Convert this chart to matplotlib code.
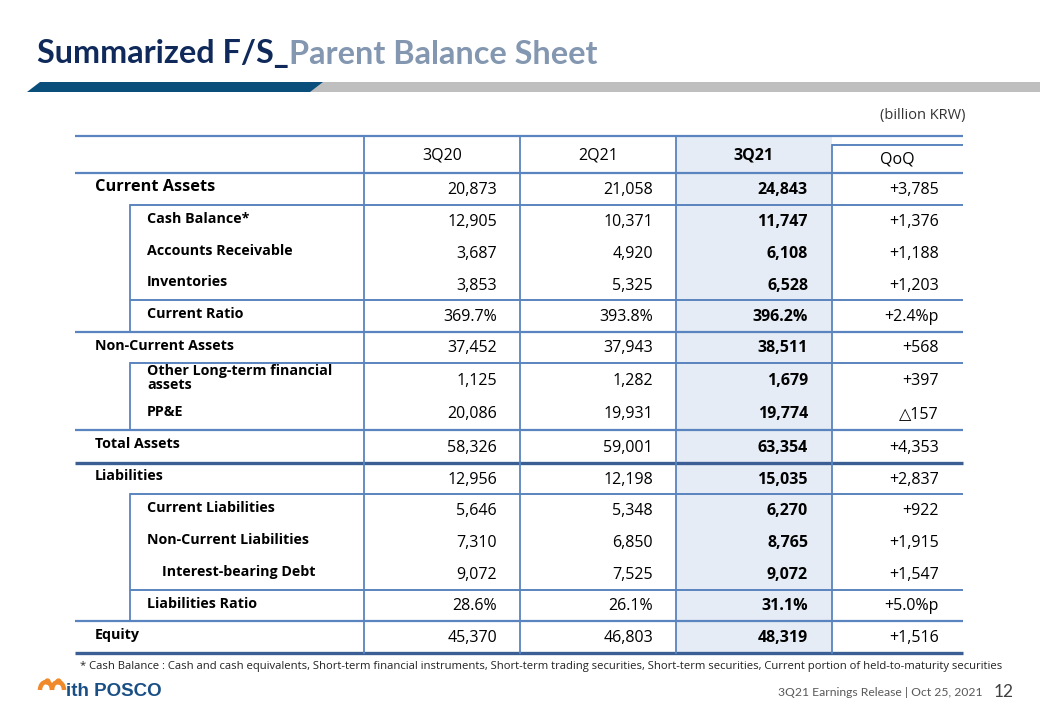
import matplotlib
matplotlib.use("Agg")
import matplotlib.pyplot as plt
from matplotlib.patches import Polygon, Rectangle, Arc

# table data (billion KRW)
row_labels = ["Current Assets", "Cash Balance*", "Accounts Receivable", "Inventories",
              "Current Ratio", "Non-Current Assets", "Other Long-term financial\nassets",
              "PP&E", "Total Assets", "Liabilities", "Current Liabilities",
              "Non-Current Liabilities", "Interest-bearing Debt", "Liabilities Ratio", "Equity"]
row_level = [0, 1, 1, 1, 1, 0, 1, 1, 0, 0, 1, 1, 2, 1, 0]
columns = ["3Q20", "2Q21", "3Q21", "QoQ"]
v_3q20 = ["20,873", "12,905", "3,687", "3,853", "369.7%", "37,452", "1,125", "20,086",
          "58,326", "12,956", "5,646", "7,310", "9,072", "28.6%", "45,370"]
v_2q21 = ["21,058", "10,371", "4,920", "5,325", "393.8%", "37,943", "1,282", "19,931",
          "59,001", "12,198", "5,348", "6,850", "7,525", "26.1%", "46,803"]
v_3q21 = ["24,843", "11,747", "6,108", "6,528", "396.2%", "38,511", "1,679", "19,774",
          "63,354", "15,035", "6,270", "8,765", "9,072", "31.1%", "48,319"]
v_qoq = ["+3,785", "+1,376", "+1,188", "+1,203", "+2.4%p", "+568", "+397", "\u25b3157",
         "+4,353", "+2,837", "+922", "+1,915", "+1,547", "+5.0%p", "+1,516"]

# layout (pixels)
row_edges = [173, 205, 237, 269, 300, 332, 363, 397, 430, 463, 494, 526, 558, 590, 621, 653]
col_edges = [75, 364, 520, 676, 832, 963]
line_c = "#5a84bf"
dark_line = "#3b5f94"
body_font = "Open Sans"

fig = plt.figure(figsize=(10.4, 7.2), dpi=100)
ax = fig.add_axes([0, 0, 1, 1])
ax.set_xlim(0, 1040)
ax.set_ylim(720, 0)
ax.axis("off")

# title
t1 = ax.text(37, 54, "Summarized F/S_", fontsize=23.3, fontweight="bold", color="#0f2a5a",
             family="Lato", va="center", ha="left")
fig.canvas.draw()
bb = t1.get_window_extent(fig.canvas.get_renderer())
x_end = ax.transData.inverted().transform((bb.x1, bb.y0))[0]
ax.text(x_end, 54, "Parent Balance Sheet", fontsize=23.3, fontweight="bold", color="#8497b0",
        family="Lato", va="center", ha="left")

# header band
ax.add_patch(Polygon([(310, 82), (1040, 82), (1040, 92), (300, 92)], closed=True,
                     facecolor="#bfbfbf", edgecolor="none"))
ax.add_patch(Polygon([(40, 82), (323, 82), (310, 92), (27, 92)], closed=True,
                     facecolor="#0a4f7c", edgecolor="none"))

ax.text(965, 115, "(billion KRW)", fontsize=10.5, color="#333333", family=body_font,
        ha="right", va="center")

# 3Q21 shading
ax.add_patch(Rectangle((col_edges[3], 136), col_edges[4] - col_edges[3], 653 - 136,
                       facecolor="#e5ecf6", edgecolor="none", zorder=0))

# horizontal lines
full = [136, 173, 332, 430, 621]
sub = [205, 300, 363, 494, 590]
for y in full:
    ax.plot([75, 963], [y, y], color=line_c, lw=1.6, solid_capstyle="butt")
for y in sub:
    ax.plot([130, 963], [y, y], color=line_c, lw=1.4, solid_capstyle="butt")
for y in [463, 653]:
    ax.plot([75, 963], [y, y], color=dark_line, lw=2.4, solid_capstyle="butt")
ax.plot([832, 963], [145, 145], color=line_c, lw=1.4, solid_capstyle="butt")

# vertical lines
for x in col_edges[1:4]:
    ax.plot([x, x], [136, 653], color=line_c, lw=1.3)
ax.plot([832, 832], [145, 653], color=line_c, lw=1.3)
for y0, y1 in [(205, 332), (363, 430), (494, 621)]:
    ax.plot([130, 130], [y0, y1], color=line_c, lw=1.3)

# header text
ax.text(442, 155, columns[0], fontsize=11.5, family=body_font, ha="center", va="center")
ax.text(598, 155, columns[1], fontsize=11.5, family=body_font, ha="center", va="center")
ax.text(754, 155, columns[2], fontsize=11.5, family=body_font, fontweight="bold",
        ha="center", va="center")
ax.text(897, 160, columns[3], fontsize=11.5, family=body_font, ha="center", va="center")

# body
label_x = {0: 95, 1: 147, 2: 162}
for i, lab in enumerate(row_labels):
    yc = (row_edges[i] + row_edges[i + 1]) / 2
    size = 11.8 if i == 0 else 10.3
    ax.text(label_x[row_level[i]], yc - 2, lab, fontsize=size, fontweight="bold",
            family=body_font, ha="left", va="center", linespacing=1.0)
    vy = yc + 1
    ax.text(497, vy, v_3q20[i], fontsize=11.5, family=body_font, ha="right", va="center")
    ax.text(653, vy, v_2q21[i], fontsize=11.5, family=body_font, ha="right", va="center")
    ax.text(808, vy, v_3q21[i], fontsize=11.5, family=body_font, fontweight="bold",
            ha="right", va="center")
    ax.text(939, vy, v_qoq[i], fontsize=11.5, family=[body_font, "DejaVu Sans"],
            ha="right", va="center")

# footnote
ax.text(80, 666, "* Cash Balance : Cash and cash equivalents, Short-term financial instruments, "
        "Short-term trading securities, Short-term securities, Current portion of held-to-maturity securities",
        fontsize=8.15, family=body_font, color="#222222", ha="left", va="center")

# footer
ax.text(983, 693, "3Q21 Earnings Release | Oct 25, 2021", fontsize=8.7, family="Lato",
        color="#595959", ha="right", va="center")
ax.text(1004, 692, "12", fontsize=12.5, family="Lato", color="#404040",
        ha="center", va="center")

# logo
orange = "#f0892a"
ax.add_patch(Arc((46, 690), 12, 16, theta1=180, theta2=360, color=orange, lw=3.2))
ax.add_patch(Arc((58, 690), 12, 16, theta1=180, theta2=360, color=orange, lw=3.2))
ax.plot([46.5, 57.5], [681, 681], "o", color=orange, ms=3.5)
ax.text(66, 692, "ith POSCO", fontsize=13.5, fontweight="bold", color="#1a4f85",
        family="Liberation Sans", ha="left", va="center")

fig.savefig("out.png", dpi=100)
